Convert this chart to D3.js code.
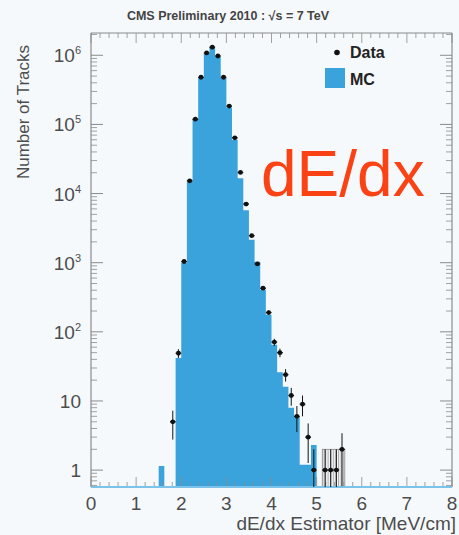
<!DOCTYPE html>
<html>
<head>
<meta charset="utf-8">
<script src="https://cdn.jsdelivr.net/npm/d3@7"></script>
<style>
  html, body { margin: 0; padding: 0; background: #f6f9fc; }
  svg { display: block; font-family: "Liberation Sans", Arial, Helvetica, sans-serif; }
</style>
</head>
<body>
<svg id="chart" width="459" height="535"></svg>
<script>
// Simulated tracks (MC): lower bin edge and entries per bin (bin width 0.125 MeV/cm)
const mcLowEdge = [1.5, 1.875, 2.0, 2.125, 2.25, 2.375, 2.5, 2.625, 2.75, 2.875,
                   3.0, 3.125, 3.25, 3.375, 3.5, 3.625, 3.75, 3.875, 4.0, 4.125,
                   4.25, 4.375, 4.5, 4.625, 4.75, 4.875];
const mcCounts  = [1.15, 42, 1000, 15000, 120000, 470000, 1050000, 1300000, 960000, 470000,
                   175000, 60000, 16600, 5750, 2140, 1030, 405, 176, 65, 26,
                   16, 8, 6, 1.2, 1.2, 2.3];

// Collision data: bin centres and track counts
const dataCenter = [1.8125, 1.9375, 2.0625, 2.1875, 2.3125, 2.4375, 2.5625, 2.6875, 2.8125, 2.9375,
                    3.0625, 3.1875, 3.3125, 3.4375, 3.5625, 3.6875, 3.8125, 3.9375, 4.0625, 4.1875,
                    4.3125, 4.4375, 4.5625, 4.6875, 4.8125, 4.9375, 5.1875, 5.3125, 5.4375, 5.5625];
const dataCounts = [5, 49, 1040, 15300, 119000, 481000, 1080000, 1310000, 977000, 481000,
                    184000, 64000, 20200, 7050, 2460, 960, 428, 190, 71, 50,
                    24, 12, 6, 9, 3, 1, 1, 1, 1, 2];
const binWidth = 0.125;

// Uncertainty band drawn over the sparse high-dE/dx bins
const bandRange = [5.125, 5.625];
const bandTop = 2;

const xTickValues = [0, 1, 2, 3, 4, 5, 6, 7, 8];
const yTickValues = [1, 10, 1e2, 1e3, 1e4, 1e5, 1e6];
const yTickBase = ["1", "10", "10", "10", "10", "10", "10"];
const yTickExponent = [null, null, "2", "3", "4", "5", "6"];

const titleText = "CMS Preliminary 2010 : \u221As = 7 TeV";
const xTitle = "dE/dx Estimator [MeV/cm]";
const yTitle = "Number of Tracks";
const legendLabels = ["Data", "MC"];
const bigLabel = "dE/dx";

const W = 459, H = 535;
const margin = { left: 91, right: 7, top: 33, bottom: 48 };
const x0 = margin.left, x1 = W - margin.right, y0 = H - margin.bottom, y1 = margin.top;

const mcBlue = "#3aa3dc";
const axisGrey = "#8a8a8a";
const textGrey = "#4d4d4d";

const svg = d3.select("#chart");
svg.append("rect").attr("width", W).attr("height", H).attr("fill", "#f6f9fc");

const x = d3.scaleLinear().domain([0, 8]).range([x0, x1]);
const y = d3.scaleLog().domain([0.57, 2.1e6]).range([y0, y1]);
const yc = v => y(Math.max(v, 0.57));

// MC histogram as one filled path of bin columns
const mcPath = d3.path();
mcLowEdge.forEach((lo, i) => {
  const a = x(lo), b = x(lo + binWidth), t = yc(mcCounts[i]);
  mcPath.moveTo(a, y0);
  mcPath.lineTo(a, t);
  mcPath.lineTo(b, t);
  mcPath.lineTo(b, y0);
  mcPath.closePath();
});
svg.append("path").attr("d", mcPath.toString()).attr("fill", mcBlue);

// Hatched uncertainty band
const defs = svg.append("defs");
const pat = defs.append("pattern").attr("id", "hatch").attr("patternUnits", "userSpaceOnUse")
  .attr("width", 2.6).attr("height", 4);
pat.append("line").attr("x1", 0.6).attr("x2", 0.6).attr("y1", 0).attr("y2", 4)
  .attr("stroke", "#9a9a9a").attr("stroke-width", 0.9);
svg.append("rect")
  .attr("x", x(bandRange[0])).attr("y", yc(bandTop))
  .attr("width", x(bandRange[1]) - x(bandRange[0]))
  .attr("height", y0 - yc(bandTop))
  .attr("fill", "url(#hatch)").attr("stroke", "#8c8c8c").attr("stroke-width", 0.8);

// Axes frame and ticks
const frame = svg.append("g").attr("stroke", axisGrey).attr("fill", "none");
frame.append("line").attr("x1", x0).attr("x2", x0).attr("y1", y1).attr("y2", y0).attr("stroke-width", 1.2);
frame.append("line").attr("x1", x1).attr("x2", x1).attr("y1", y1).attr("y2", y0).attr("stroke-width", 1.2);
frame.append("line").attr("x1", x0).attr("x2", x1).attr("y1", y1).attr("y2", y1).attr("stroke-width", 1.2);

// y ticks (major decades, minor 2..9)
const yMinor = [];
for (let e = -1; e <= 6; e++) for (let m = 2; m <= 9; m++) {
  const v = m * Math.pow(10, e);
  if (v >= 0.57 && v <= 2.1e6) yMinor.push(v);
}
yMinor.forEach(v => {
  frame.append("line").attr("x1", x0).attr("x2", x0 + 6).attr("y1", y(v)).attr("y2", y(v)).attr("stroke-width", 0.8);
  frame.append("line").attr("x1", x1).attr("x2", x1 - 6).attr("y1", y(v)).attr("y2", y(v)).attr("stroke-width", 0.8);
});
yTickValues.forEach(v => {
  frame.append("line").attr("x1", x0).attr("x2", x0 + 12).attr("y1", y(v)).attr("y2", y(v)).attr("stroke-width", 1);
  frame.append("line").attr("x1", x1).attr("x2", x1 - 12).attr("y1", y(v)).attr("y2", y(v)).attr("stroke-width", 1);
});

// x ticks (major integers, minor every 0.2)
d3.range(0, 8.0001, 0.2).forEach(v => {
  const isMajor = Math.abs(v - Math.round(v)) < 1e-6;
  const len = isMajor ? 10 : 5;
  frame.append("line").attr("x1", x(v)).attr("x2", x(v)).attr("y1", y1).attr("y2", y1 + len).attr("stroke-width", 0.8);
  frame.append("line").attr("x1", x(v)).attr("x2", x(v)).attr("y1", y0).attr("y2", y0 - len).attr("stroke-width", 0.8);
});
// bottom edge of the frame
svg.append("line").attr("x1", x0).attr("x2", x1).attr("y1", y0).attr("y2", y0)
  .attr("stroke", "#7cc3ea").attr("stroke-width", 2);

// Data points with Poisson error bars
const pts = svg.append("g").attr("stroke", "#111").attr("fill", "#111");
dataCenter.forEach((c, i) => {
  const n = dataCounts[i];
  const err = Math.sqrt(n);
  const cx = x(c), cy = y(n);
  pts.append("line").attr("x1", cx).attr("x2", cx).attr("y1", yc(n + err)).attr("y2", yc(n - err)).attr("stroke-width", 1);
  pts.append("line").attr("x1", x(c - binWidth / 2)).attr("x2", x(c + binWidth / 2)).attr("y1", cy).attr("y2", cy).attr("stroke-width", 1.3);
  pts.append("circle").attr("cx", cx).attr("cy", cy).attr("r", 2.4).attr("stroke", "none");
});

// Tick labels
const labels = svg.append("g").attr("fill", textGrey);
xTickValues.forEach(v => {
  labels.append("text").attr("x", x(v)).attr("y", 510).attr("text-anchor", "middle")
    .attr("font-size", 19).text(v);
});
yTickValues.forEach((v, i) => {
  const t = labels.append("text").attr("x", 81).attr("y", y(v) + 7).attr("text-anchor", "end").attr("font-size", 19);
  t.append("tspan").text(yTickBase[i]);
  if (yTickExponent[i]) t.append("tspan").attr("dy", -8).attr("font-size", 11).text(yTickExponent[i]);
});

// Axis titles
svg.append("text").attr("x", 456).attr("y", 530).attr("text-anchor", "end")
  .attr("font-size", 19).attr("fill", textGrey).text(xTitle);
svg.append("text").attr("transform", "translate(29,112) rotate(-90)").attr("text-anchor", "middle")
  .attr("font-size", 17).attr("fill", textGrey).text(yTitle);

// Header
svg.append("text").attr("x", 228).attr("y", 20).attr("text-anchor", "middle")
  .attr("font-size", 12.5).attr("font-weight", "bold").attr("fill", "#444").text(titleText);

// Legend
svg.append("circle").attr("cx", 337).attr("cy", 52.5).attr("r", 2.8).attr("fill", "#111");
svg.append("text").attr("x", 350).attr("y", 58).attr("font-size", 16).attr("font-weight", "bold")
  .attr("fill", "#222").text(legendLabels[0]);
svg.append("rect").attr("x", 325).attr("y", 68).attr("width", 20).attr("height", 20).attr("fill", mcBlue);
svg.append("text").attr("x", 350).attr("y", 85).attr("font-size", 16).attr("font-weight", "bold")
  .attr("fill", "#222").text(legendLabels[1]);

// Large annotation
svg.append("text").attr("x", 261).attr("y", 196).attr("font-size", 64)
  .attr("fill", "#fb4214").text(bigLabel);
</script>
</body>
</html>
